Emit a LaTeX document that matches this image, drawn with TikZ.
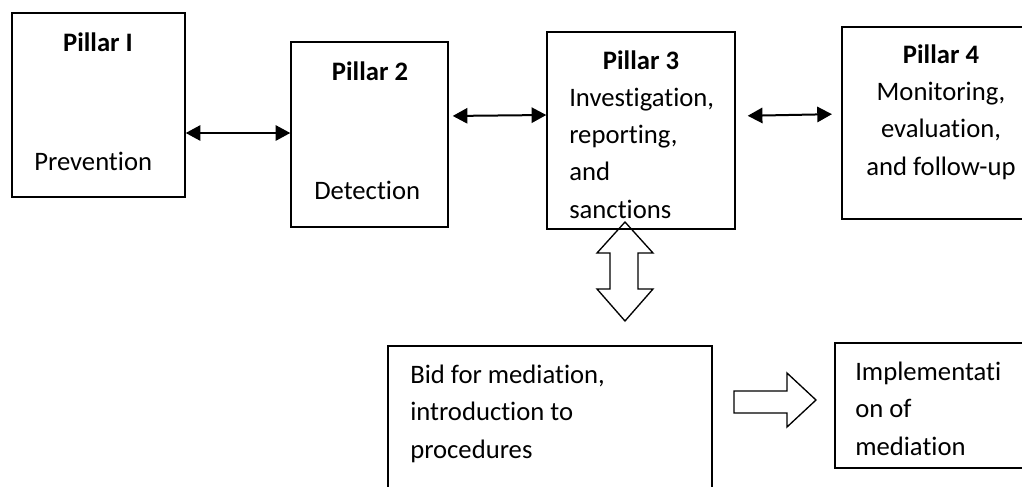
\documentclass[tikz,border=0pt]{standalone}
\usepackage{fontspec}
\setmainfont{Carlito}[Ligatures=NoCommon]
\usetikzlibrary{arrows.meta,fit}

\begin{document}
\begin{tikzpicture}[x=0.75pt, y=-0.75pt,
  pillar/.style = {draw, line width=1.1pt, inner sep=0pt},
  txt/.style = {inner sep=0pt, align=left, anchor=base west,
    font=\fontsize{20pt}{28pt}\selectfont},
  head/.style = {txt, anchor=base, font=\bfseries\fontsize{20pt}{28pt}\selectfont},
  link/.style = {line width=1.5pt, {Triangle[length=11pt,width=11.5pt]}-{Triangle[length=11pt,width=11.5pt]}},
  hollow/.style = {draw, line width=1pt, line join=miter}
]
  \useasboundingbox (0,0) rectangle (1022,486);
  \clip (0,0) rectangle (1022,486);

  % the four pillars
  \node[pillar, fit={(12,13) (185,197)}] (pillar1) {};
  \node[pillar, fit={(291,42) (448,227)}] (pillar2) {};
  \node[pillar, fit={(547,32) (735,229)}] (pillar3) {};
  \node[pillar, fit={(842,27) (1040,219)}] (pillar4) {};
  % mediation
  \node[pillar, fit={(388,346) (712,500)}] (bid) {};
  \node[pillar, fit={(835,343) (1040,468)}] (impl) {};

  % texts, placed at the baseline of their last line
  \node[head] (head1) at (98,51) {Pillar I};
  \node[txt] (body1) at (34,170) {Prevention};
  \node[head] (head2) at (370,80) {Pillar 2};
  \node[txt] (body2) at (314,199) {Detection};
  \node[head] (head3) at (641,69) {Pillar 3};
  \node[txt] (body3) at (569,218) {Investigation,\\reporting,\\and\\sanctions};
  \node[head] (head4) at (941,63) {Pillar 4};
  \node[txt, align=center, anchor=base] (body4) at (941,175) {Monitoring,\\evaluation,\\and follow-up};
  \node[txt] (bidtext) at (410,458) {Bid for mediation,\\introduction to\\procedures};
  \node[txt] (impltext) at (855,455) {Implementati\\on of\\mediation};

  \draw[link] (pillar1.east |- 0,133) -- (pillar2.west |- 0,133);
  \draw[link, shorten <=3pt] (pillar2.east |- 0,116) -- (pillar3.west |- 0,115);
  \draw[link, shorten <=9pt, shorten >=7pt] (pillar3.east |- 0,116) -- (pillar4.west |- 0,114);

  % hollow block arrows
  \draw[hollow] (625,222) -- (653,253) -- (638,253) -- (638,289) -- (653,289) -- (625,321)
    -- (597,289) -- (610,289) -- (610,253) -- (597,253) -- cycle;
  \draw[hollow] (734,391) -- (787,391) -- (787,373) -- (816,400) -- (787,427) -- (787,413)
    -- (734,413) -- cycle;
\end{tikzpicture}
\end{document}
